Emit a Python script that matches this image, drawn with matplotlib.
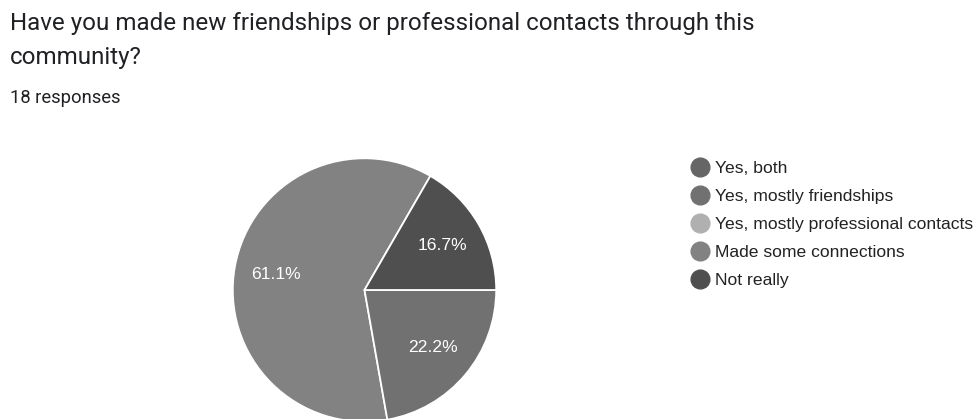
import matplotlib
matplotlib.use("Agg")
import matplotlib.pyplot as plt
from matplotlib.lines import Line2D

W, H, DPI = 976, 419, 100

title_lines = [
    "Have you made new friendships or professional contacts through this",
    "community?",
]
subtitle = "18 responses"

# legend order
options = [
    "Yes, both",
    "Yes, mostly friendships",
    "Yes, mostly professional contacts",
    "Made some connections",
    "Not really",
]
counts = [0, 4, 0, 11, 3]
colors = ["#666666", "#717171", "#b0b0b0", "#828282", "#4f4f4f"]

# order the slices are laid out (counter-clockwise from the start angle)
pie_order = [3, 1, 4]

fig = plt.figure(figsize=(W / DPI, H / DPI), dpi=DPI)
fig.patch.set_facecolor("white")


def px(x, y):
    return x / W, 1 - y / H


fig.text(*px(10, 30), title_lines[0], fontsize=17.4, family="Roboto",
         color="#202124", va="baseline")
fig.text(*px(10, 64), title_lines[1], fontsize=17.4, family="Roboto",
         color="#202124", va="baseline")
fig.text(*px(10, 103), subtitle, fontsize=13.2, family="Roboto",
         color="#202124", va="baseline")

cx, cy, r = 364.5, 290, 131.7
ax = fig.add_axes([(cx - r) / W, (H - cy - r) / H, 2 * r / W, 2 * r / H])
vals = [counts[i] for i in pie_order]
cols = [colors[i] for i in pie_order]
wedges, _, autotexts = ax.pie(
    vals, colors=cols, startangle=60, counterclock=True,
    autopct="%.1f%%", pctdistance=0.68, radius=1,
    wedgeprops=dict(edgecolor="white", linewidth=1.3),
    textprops=dict(color="white", fontsize=12.6, family="Liberation Sans"),
)
ax.set_xlim(-1, 1)
ax.set_ylim(-1, 1)
ax.axis("off")

handles = [Line2D([], [], marker="o", linestyle="", markersize=13.5,
                  markerfacecolor=c, markeredgecolor=c) for c in colors]
leg = fig.legend(handles, options, loc="upper left",
                 bbox_to_anchor=px(689.5, 161), frameon=False,
                 prop=dict(family="Liberation Sans", size=12.6),
                 handletextpad=0.26, labelspacing=0.73, handlelength=1.2,
                 borderaxespad=0, borderpad=0)
for t in leg.get_texts():
    t.set_color("#222222")

fig.savefig("out.png", dpi=DPI)
